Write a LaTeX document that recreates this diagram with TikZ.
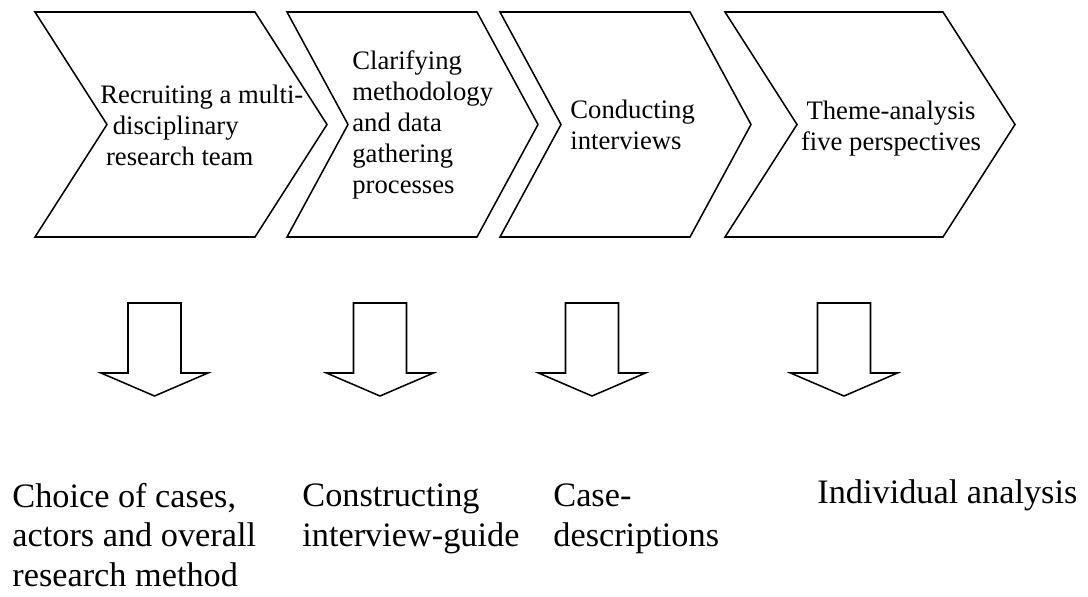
\documentclass[tikz,border=0pt]{standalone}
\usepackage{fontspec}
\setmainfont{Liberation Serif}
\usetikzlibrary{positioning}
% chevron: left x, top right x, depth of point and notch
\newcommand{\chevron}[3]{%
  \draw[blk] (#1,12) -- (#2,12) -- ({#2+#3},124.5) -- (#2,237) -- (#1,237)
    -- ({#1+#3},124.5) -- cycle;}
% block arrow pointing down, centred at x
\newcommand{\blockdown}[1]{%
  \draw[blk] ({#1-26.5},303) -- ({#1+26.5},303) -- ({#1+26.5},373)
    -- ({#1+53.5},373) -- (#1,396) -- ({#1-53.5},373) -- ({#1-26.5},373) -- cycle;}

\begin{document}
\begin{tikzpicture}[
    x=0.525pt, y=-0.525pt,
    blk/.style={draw=black, line width=0.8pt, line join=miter},
    stage/.style={anchor=base west, inner sep=0pt, align=left,
                  font=\fontsize{14}{16.2}\selectfont},
    outcome/.style={anchor=base west, inner sep=0pt, align=left,
                    font=\fontsize{18}{20.5}\selectfont},
]
    \useasboundingbox (0,0) rectangle (1088,597);

    \chevron{35}{255}{72}
    \chevron{287}{477}{61}
    \chevron{500}{690}{61}
    \chevron{725}{943}{72}

    % base anchor sits on the last line
    \node[stage] (recruit) at (100,165)
        {Recruiting a multi-\\\hspace*{6.5pt}disciplinary\\\hspace*{3pt}research team};
    \node[stage] (clarify) at (352,193) {Clarifying\\methodology\\and data\\gathering\\processes};
    \node[stage] (conduct) at (570,149) {Conducting\\interviews};
    \node[stage, anchor=base, align=center] (theme) at (891,150) {Theme-analysis\\five perspectives};

    \foreach \cx in {154.5,380,592,844} {\blockdown{\cx}}

    \node[outcome] (choice) at (12,586) {Choice of cases,\\actors and overall\\research method};
    \node[outcome] (guide) at (302,546) {Constructing\\interview-guide};
    \node[outcome] (casedesc) at (553,546) {Case-\\descriptions};
    \node[outcome] (indiv) at (817,503) {Individual analysis};
\end{tikzpicture}
\end{document}
